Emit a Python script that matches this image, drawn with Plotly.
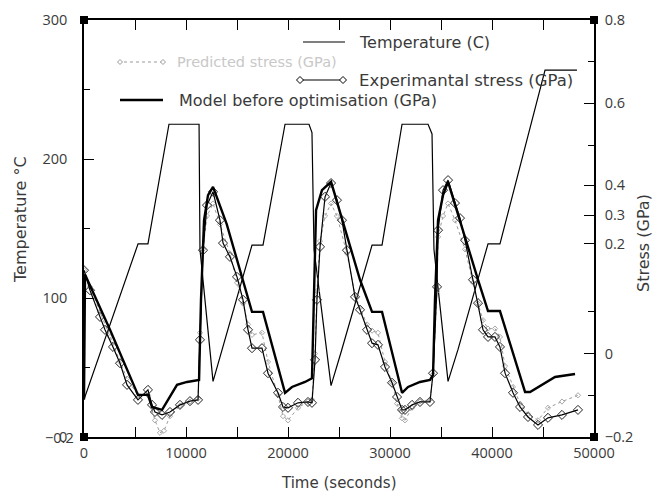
import plotly.graph_objects as go

# ---------------- data ----------------
temp_time = [0, 5300, 6270, 8330, 11280, 11370, 12650, 13630, 16470, 17550, 19710, 22060,
             22350, 22550, 24220, 25200, 28240, 29220, 31180, 33730, 34120, 34310, 35690,
             36670, 39610, 40780, 45200, 48330]
temp_c = [27, 139, 139, 225, 225, 135, 40, 65, 138, 138, 225, 225,
          219, 135, 37, 61, 138, 138, 225, 225, 218, 135, 40,
          63, 139, 139, 264, 264]

model_time = [0, 100, 2550, 5290, 6270, 6670, 7650, 9120, 10100, 11280, 11470, 11770, 12160, 12650,
              14000, 15590, 16470, 17550, 19710, 20390, 21670, 22350, 22550, 22750, 23330, 24220,
              27060, 28240, 29220, 31180, 31770, 32940, 33920, 34220, 34410, 34710, 35200, 35690,
              38630, 39610, 40780, 43240, 43730, 44900, 46180, 48140]
model_gpa = [-0.11, 0.19, 0.057, -0.099, -0.099, -0.128, -0.135, -0.075, -0.068, -0.063, 0.129, 0.32, 0.38, 0.40,
             0.31, 0.177, 0.10, 0.10, -0.094, -0.08, -0.068, -0.059, 0.129, 0.344, 0.392, 0.412,
             0.177, 0.10, 0.10, -0.094, -0.08, -0.068, -0.063, -0.051, 0.129, 0.32, 0.38, 0.412,
             0.177, 0.102, 0.102, -0.092, -0.092, -0.075, -0.056, -0.049]

exp_time = [0, 590, 1570, 2060, 2840, 3530, 4220, 5290, 6270, 6670, 6960, 7650, 8430, 9410, 10390, 11180,
            11370, 11670, 12060, 12650,
            13330, 13630, 14310, 15000, 15590, 16080, 16470, 17450, 18040, 19020, 19510, 20000, 20980,
            21960, 22350,
            22650, 22840, 23140, 23630, 24220,
            24800, 25290, 25780, 26570, 27060, 27750, 28240, 28820, 29510, 30200, 30690, 31180, 31470,
            32160, 32940, 33920, 34220,
            34610, 34710, 35200, 35690,
            36370, 36860, 37350, 38140, 38630, 39120, 39610, 40290, 40780, 41280, 42060, 42750, 43530,
            44510, 45490, 46860, 48430]
exp_gpa = [0.20, 0.152, 0.088, 0.057, 0.016, -0.023, -0.075, -0.111, -0.087, -0.123, -0.14, -0.147, -0.14,
           -0.123, -0.114, -0.111,
           0.033, 0.248, 0.356, 0.388,
           0.32, 0.265, 0.232, 0.184, 0.129, 0.057, 0.013, 0.013, -0.047, -0.094, -0.128, -0.13, -0.118,
           -0.116, -0.118,
           -0.015, 0.129, 0.256, 0.376, 0.409,
           0.368, 0.32, 0.248, 0.136, 0.105, 0.057, 0.025, 0.021, -0.032, -0.07, -0.104, -0.135, -0.135,
           -0.123, -0.116, -0.116, -0.047,
           0.16, 0.296, 0.392, 0.416,
           0.361, 0.325, 0.272, 0.177, 0.121, 0.057, 0.04, 0.04, 0.016, -0.047, -0.094, -0.128, -0.152,
           -0.171, -0.154, -0.147, -0.135]

opt_time = [0, 590, 1570, 2550, 3530, 4220, 5290, 6270, 6960, 7450, 7840, 8430, 9410, 10390, 11180,
            11370, 11670, 12060, 12650,
            13330, 14310, 15000, 15590, 16080, 16470, 17450, 18040, 19020, 19510, 20000, 20980, 21960, 22350,
            22650, 22840, 23140, 23630, 24220,
            24800, 25780, 26570, 27060, 27750, 28240, 28820, 29510, 30200, 30690, 31180, 31470, 32160,
            32940, 33920, 34220,
            34610, 34710, 35200, 35690,
            36370, 37350, 38140, 38630, 39120, 39610, 40290, 40780, 41280, 42060, 42750, 43530, 44510,
            45490, 46860, 48430]
opt_gpa = [0.20, 0.16, 0.10, 0.04, -0.02, -0.06, -0.10, -0.10, -0.16, -0.19, -0.185, -0.15, -0.125, -0.115, -0.108,
           0.05, 0.25, 0.33, 0.36,
           0.31, 0.24, 0.17, 0.12, 0.07, 0.045, 0.05, -0.02, -0.10, -0.15, -0.16, -0.13, -0.115, -0.11,
           0.0, 0.15, 0.27, 0.33, 0.36,
           0.33, 0.24, 0.14, 0.11, 0.07, 0.055, 0.05, -0.02, -0.07, -0.12, -0.155, -0.16, -0.13,
           -0.115, -0.11, -0.05,
           0.15, 0.28, 0.33, 0.36,
           0.32, 0.25, 0.17, 0.12, 0.08, 0.06, 0.06, 0.04, -0.03, -0.08, -0.12, -0.145, -0.16,
           -0.13, -0.115, -0.10]

x_tick_vals = [0, 10000, 20000, 30000, 40000, 50000]
x_tick_text = ["0", "10000", "20000", "30000", "40000", "50000"]
left_tick_vals = [0, 100, 200, 300]
left_tick_text = ["0", "100", "200", "300"]
right_tick_vals = [-0.2, 0.0, 0.263, 0.332, 0.404, 0.6, 0.8]
right_tick_text = ["\u22120.2", "0", "0.2", "0.3", "0.4", "0.6", "0.8"]
right_minor_vals = [0.7, 0.5, 0.1, -0.1]

legend_labels = ["Temperature (C)", "Predicted stress (GPa)",
                 "Experimantal stress (GPa)", "Model before optimisation (GPa)"]

# ---------------- layout geometry (page pixels; page has an 8px body margin) ----------------
OFF = 8
W, H = 663, 500
PLOT_L, PLOT_R, PLOT_T, PLOT_B = 84, 594, 20, 437
L = PLOT_L - OFF
T = PLOT_T - OFF
R = W - (PLOT_R - OFF)
B = H - (PLOT_B - OFF)
PW, PH = PLOT_R - PLOT_L, PLOT_B - PLOT_T


def px(xp):
    return (xp - PLOT_L) / PW


def py(yp):
    return (PLOT_B - yp) / PH


FONT = "Open Sans"
WIDE = "DejaVu Sans"
TXT = "#3a3a3a"

fig = go.Figure()

fig.add_trace(go.Scatter(x=temp_time, y=temp_c, mode="lines", yaxis="y",
                         line=dict(color="black", width=1.2), name=legend_labels[0]))
fig.add_trace(go.Scatter(x=opt_time, y=opt_gpa, mode="lines+markers", yaxis="y2",
                         line=dict(color="#9a9a9a", width=1, dash="dot"),
                         marker=dict(symbol="diamond-open", size=4, color="#a8a8a8", line=dict(width=1)),
                         name=legend_labels[1]))
fig.add_trace(go.Scatter(x=exp_time, y=exp_gpa, mode="lines+markers", yaxis="y2",
                         line=dict(color="black", width=1.2),
                         marker=dict(symbol="diamond-open", size=7, color="#222", line=dict(width=1)),
                         name=legend_labels[2]))
fig.add_trace(go.Scatter(x=model_time, y=model_gpa, mode="lines", yaxis="y2",
                         line=dict(color="black", width=2.4), name=legend_labels[3]))

tickfont = dict(family=FONT, size=14.5, color=TXT)

fig.update_layout(
    width=W, height=H, margin=dict(l=L, r=R, t=T, b=B, autoexpand=False),
    paper_bgcolor="white", plot_bgcolor="white", showlegend=False,
    xaxis=dict(range=[0, 50000], tickvals=x_tick_vals, ticktext=x_tick_text,
               showline=True, linecolor="black", linewidth=1.5, mirror="allticks",
               ticks="inside", ticklen=10, tickcolor="black", tickwidth=1,
               minor=dict(dtick=5000, ticks="inside", ticklen=6, tickcolor="black"),
               showgrid=False, zeroline=False, tickfont=tickfont, ticklabelstandoff=2),
    yaxis=dict(range=[0, 300], tickvals=left_tick_vals, ticktext=left_tick_text,
               showline=True, linecolor="black", linewidth=1.5,
               ticks="inside", ticklen=10, tickcolor="black",
               minor=dict(dtick=50, ticks="inside", ticklen=6, tickcolor="black"),
               showgrid=False, zeroline=False, tickfont=tickfont, ticklabelstandoff=12),
    yaxis2=dict(range=[-0.2, 0.8], overlaying="y", side="right",
                tickmode="array", tickvals=right_tick_vals, ticktext=right_tick_text,
                showline=True, linecolor="black", linewidth=1.5,
                ticks="inside", ticklen=10, tickcolor="black",
                minor=dict(tickmode="array", tickvals=right_minor_vals, ticks="inside",
                           ticklen=6, tickcolor="black"),
                showgrid=False, zeroline=False, tickfont=tickfont, ticklabelstandoff=6),
)

shapes = []
annotations = []

# corner squares
for cx, cy in [(84, 20), (594, 20), (84, 437), (594, 437)]:
    shapes.append(dict(type="rect", xref="paper", yref="paper",
                       x0=px(cx - 4), x1=px(cx + 4), y0=py(cy + 4), y1=py(cy - 4),
                       fillcolor="black", line=dict(width=0)))

# overlapping label at the bottom-left corner
annotations.append(dict(xref="paper", yref="paper", x=px(76), y=py(437), text="\u22120.2",
                        showarrow=False, xanchor="right", yanchor="middle",
                        font=dict(family=FONT, size=14.5, color=TXT)))

# axis titles
annotations.append(dict(xref="paper", yref="paper", x=px(339), y=py(483), text="Time (seconds)",
                        showarrow=False, xanchor="center", yanchor="middle",
                        font=dict(family=WIDE, size=15, color=TXT)))
annotations.append(dict(xref="paper", yref="paper", x=px(20), y=py(220), text="Temperature \u00b0C",
                        showarrow=False, textangle=-90, xanchor="center", yanchor="middle",
                        font=dict(family=WIDE, size=16, color=TXT)))
annotations.append(dict(xref="paper", yref="paper", x=px(643), y=py(243), text="Stress (GPa)",
                        showarrow=False, textangle=-90, xanchor="center", yanchor="middle",
                        font=dict(family=WIDE, size=16, color=TXT)))


# custom legend
def hline(x0, x1, y, color, width, dash="solid"):
    shapes.append(dict(type="line", xref="paper", yref="paper", x0=px(x0), x1=px(x1),
                       y0=py(y), y1=py(y), line=dict(color=color, width=width, dash=dash)))


def diamond(cx, cy, r, color):
    path = "M {} {} L {} {} L {} {} L {} {} Z".format(
        px(cx - r), py(cy), px(cx), py(cy - r), px(cx + r), py(cy), px(cx), py(cy + r))
    shapes.append(dict(type="path", xref="paper", yref="paper", path=path,
                       line=dict(color=color, width=1), fillcolor="white"))


hline(303, 345, 42, "black", 1.2)
hline(118, 165, 62, "#9a9a9a", 1.2, "dot")
diamond(120, 62, 2.5, "#9a9a9a")
diamond(163, 62, 2.5, "#9a9a9a")
hline(300, 343, 80, "black", 1.2)
diamond(300, 80, 3.5, "black")
diamond(343, 80, 3.5, "black")
hline(120, 163, 100, "black", 2.4)

leg = [(357, 42, legend_labels[0], TXT, 16), (175, 62, legend_labels[1], "#c8c8c8", 14.5),
       (357, 80, legend_labels[2], TXT, 16.5), (177, 100, legend_labels[3], TXT, 16)]
for lx, ly, txt, col, sz in leg:
    annotations.append(dict(xref="paper", yref="paper", x=px(lx), y=py(ly), text=txt,
                            showarrow=False, xanchor="left", yanchor="middle",
                            font=dict(family=WIDE, size=sz, color=col)))

fig.update_layout(shapes=shapes, annotations=annotations)

fig.write_html("out.html")
